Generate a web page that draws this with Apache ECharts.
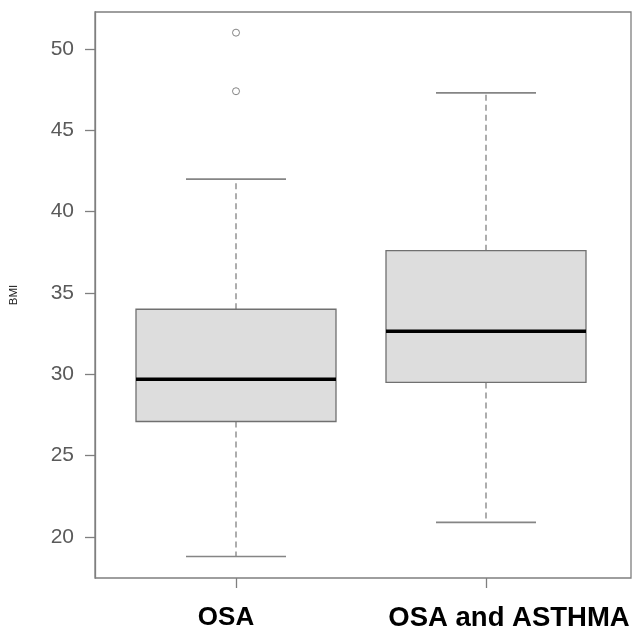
<!DOCTYPE html>
<html>
<head>
<meta charset="utf-8">
<script src="https://cdn.jsdelivr.net/npm/echarts@6/dist/echarts.min.js"></script>
<style>
  html, body { margin: 0; padding: 0; background: #fff; }
  #app { width: 633px; height: 632px; }
</style>
</head>
<body>
<div id="app"></div>
<script>
// groups and box statistics (BMI)
const categories = ["OSA", "OSA and ASTHMA"];
const lowWhisker = [18.8, 20.9];
const q1 = [27.1, 29.5];
const median = [29.7, 32.65];
const q3 = [34.0, 37.6];
const highWhisker = [42.0, 47.3];
// outliers: [group index, value]
const outliers = [[0, 51.0], [0, 47.4]];
const yTicks = [20, 25, 30, 35, 40, 45, 50];

(function () {
  let dom = document.getElementById("app");
  var myChart = echarts.init(dom);

  let boxData = categories.map((c, i) => [i, lowWhisker[i], q1[i], median[i], q3[i], highWhisker[i]]);

  const frameColor = "#7f7f7f";
  const yMin = 17.48, yMax = 52.27;

  function renderBox(params, api) {
    let x = api.value(0);
    let band = api.size([1, 0])[0];
    let half = band * 0.4;
    let staple = band * 0.2;
    let pLow = api.coord([x, api.value(1)]);
    let pQ1 = api.coord([x, api.value(2)]);
    let pMed = api.coord([x, api.value(3)]);
    let pQ3 = api.coord([x, api.value(4)]);
    let pHigh = api.coord([x, api.value(5)]);
    let cx = pMed[0];
    let dashStyle = { stroke: "#777", lineWidth: 1.2, lineDash: [6, 4] };
    let stapleStyle = { stroke: "#858585", lineWidth: 1.6 };
    return {
      type: "group",
      children: [
        { type: "line", shape: { x1: cx, y1: pQ3[1], x2: cx, y2: pHigh[1] }, style: dashStyle },
        { type: "line", shape: { x1: cx, y1: pQ1[1], x2: cx, y2: pLow[1] }, style: dashStyle },
        { type: "line", shape: { x1: cx - staple, y1: pHigh[1], x2: cx + staple, y2: pHigh[1] }, style: stapleStyle },
        { type: "line", shape: { x1: cx - staple, y1: pLow[1], x2: cx + staple, y2: pLow[1] }, style: stapleStyle },
        {
          type: "rect",
          shape: { x: cx - half, y: pQ3[1], width: half * 2, height: pQ1[1] - pQ3[1] },
          style: { fill: "#dddddd", stroke: "#707070", lineWidth: 1.3 }
        },
        { type: "line", shape: { x1: cx - half, y1: pMed[1], x2: cx + half, y2: pMed[1] }, style: { stroke: "#000", lineWidth: 3.6 } }
      ]
    };
  }

  let option = {
    animation: false,
    grid: [
      // frame + y axis
      { left: 91, right: 2, top: 12, bottom: 54, show: true, borderColor: frameColor, borderWidth: 1.3, backgroundColor: "transparent" },
      // category positions as in R (0.42 .. 2.58)
      { left: 111, right: 22, top: 12, bottom: 54 }
    ],
    xAxis: [
      { gridIndex: 0, type: "value", min: 0, max: 1, show: false },
      {
        gridIndex: 1,
        type: "category",
        data: categories,
        axisLine: { show: false },
        axisTick: { show: true, alignWithLabel: true, length: 10, lineStyle: { color: frameColor, width: 1.3 } },
        axisLabel: {
          interval: 0,
          margin: 27,
          formatter: (v, i) => (i === 0 ? "{a|" + v + "}" : "{b|" + v + "}"),
          rich: {
            a: { fontFamily: "'Liberation Sans', Arial, sans-serif", fontWeight: "bold", fontSize: 26, lineHeight: 26, color: "#000", padding: [0, 20, 0, 0] },
            b: { fontFamily: "'Liberation Sans', Arial, sans-serif", fontWeight: "bold", fontSize: 27.5, lineHeight: 26, color: "#000", padding: [0, 0, 0, 46] }
          }
        },
        splitLine: { show: false }
      }
    ],
    yAxis: [
      {
        gridIndex: 0,
        type: "value",
        min: yMin,
        max: yMax,
        name: "BMI",
        nameLocation: "middle",
        nameRotate: 90,
        nameGap: 75,
        nameTextStyle: { fontFamily: "'Liberation Sans', Arial, sans-serif", fontSize: 11.5, color: "#222" },
        axisLine: { show: true, lineStyle: { color: frameColor, width: 1.3 } },
        axisTick: { show: true, length: 10, customValues: yTicks, lineStyle: { color: frameColor, width: 1.3 } },
        axisLabel: {
          customValues: yTicks,
          margin: 21,
          fontFamily: "'Liberation Sans Narrow', 'Liberation Sans', Arial, sans-serif",
          fontSize: 21,
          color: "#5a5a5a"
        },
        splitLine: { show: false }
      },
      { gridIndex: 1, type: "value", min: yMin, max: yMax, show: false }
    ],
    series: [
      {
        type: "custom",
        xAxisIndex: 1,
        yAxisIndex: 1,
        renderItem: renderBox,
        encode: { x: 0, y: [1, 2, 3, 4, 5] },
        data: boxData
      },
      {
        type: "scatter",
        xAxisIndex: 1,
        yAxisIndex: 1,
        symbol: "circle",
        symbolSize: 7,
        itemStyle: { color: "#fff", borderColor: "#666", borderWidth: 1 },
        data: outliers
      }
    ]
  };
  myChart.setOption(option);
})();
</script>
</body>
</html>
